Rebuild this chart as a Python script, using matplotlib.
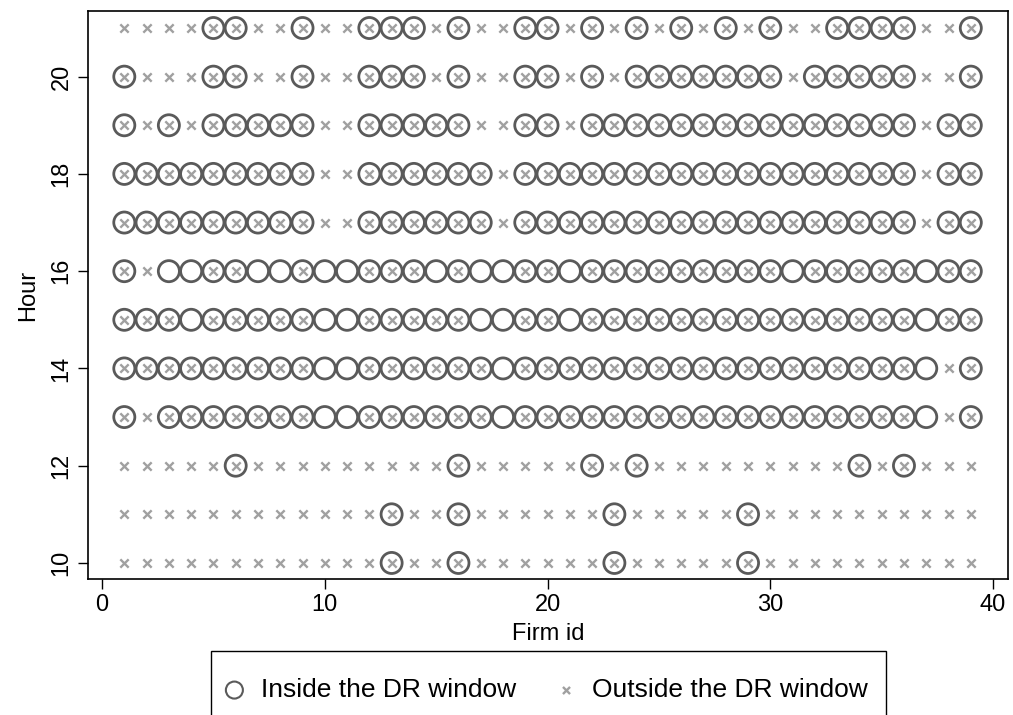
import matplotlib.pyplot as plt
from matplotlib.patches import Rectangle

plt.rcParams['font.family'] = ['Liberation Sans', 'DejaVu Sans']

# firm ids on the x axis
firms = [1, 2, 3, 4, 5, 6, 7, 8, 9, 10, 11, 12, 13, 14, 15, 16, 17, 18, 19, 20,
         21, 22, 23, 24, 25, 26, 27, 28, 29, 30, 31, 32, 33, 34, 35, 36, 37, 38, 39]

hours = [10, 11, 12, 13, 14, 15, 16, 17, 18, 19, 20, 21]

# firms with a point inside the DR window, one list per hour
inside = [
    [13, 16, 23, 29],
    [13, 16, 23, 29],
    [6, 16, 22, 24, 34, 36],
    [1, 3, 4, 5, 6, 7, 8, 9, 10, 11, 12, 13, 14, 15, 16, 17, 18, 19, 20, 21,
     22, 23, 24, 25, 26, 27, 28, 29, 30, 31, 32, 33, 34, 35, 36, 37, 39],
    [1, 2, 3, 4, 5, 6, 7, 8, 9, 10, 11, 12, 13, 14, 15, 16, 17, 18, 19, 20,
     21, 22, 23, 24, 25, 26, 27, 28, 29, 30, 31, 32, 33, 34, 35, 36, 37, 39],
    [1, 2, 3, 4, 5, 6, 7, 8, 9, 10, 11, 12, 13, 14, 15, 16, 17, 18, 19, 20,
     21, 22, 23, 24, 25, 26, 27, 28, 29, 30, 31, 32, 33, 34, 35, 36, 37, 38, 39],
    [1, 3, 4, 5, 6, 7, 8, 9, 10, 11, 12, 13, 14, 15, 16, 17, 18, 19, 20,
     21, 22, 23, 24, 25, 26, 27, 28, 29, 30, 31, 32, 33, 34, 35, 36, 37, 38, 39],
    [1, 2, 3, 4, 5, 6, 7, 8, 9, 12, 13, 14, 15, 16, 17, 19, 20, 21, 22, 23,
     24, 25, 26, 27, 28, 29, 30, 31, 32, 33, 34, 35, 36, 38, 39],
    [1, 2, 3, 4, 5, 6, 7, 8, 9, 12, 13, 14, 15, 16, 17, 19, 20, 21, 22, 23,
     24, 25, 26, 27, 28, 29, 30, 31, 32, 33, 34, 35, 36, 38, 39],
    [1, 3, 5, 6, 7, 8, 9, 12, 13, 14, 15, 16, 19, 20, 22, 23, 24, 25, 26, 27,
     28, 29, 30, 31, 32, 33, 34, 35, 36, 38, 39],
    [1, 5, 6, 9, 12, 13, 14, 16, 19, 20, 22, 24, 25, 26, 27, 28, 29, 30,
     32, 33, 34, 35, 36, 39],
    [5, 6, 9, 12, 13, 14, 16, 19, 20, 22, 24, 26, 28, 30, 33, 34, 35, 36, 39],
]

# firms with no point outside the DR window in that hour
no_outside = [[], [], [], [10, 11, 18, 37], [10, 11, 18, 37],
              [4, 10, 11, 17, 18, 21, 37],
              [3, 4, 7, 8, 10, 11, 15, 17, 18, 21, 31, 37],
              [], [], [], [], []]

ix, iy, ox, oy = [], [], [], []
for h, ins, miss in zip(hours, inside, no_outside):
    for f in ins:
        ix.append(f)
        iy.append(h)
    for f in firms:
        if f not in miss:
            ox.append(f)
            oy.append(h)

fig = plt.figure(figsize=(10.13, 7.15), dpi=100)
ax = fig.add_axes([88/1013, 1 - 579/715, (1008 - 88)/1013, (579 - 11)/715])

ax.scatter(ix, iy, s=230, facecolors='none', edgecolors='#5a5a5a',
           linewidths=2.0, label='Inside the DR window', zorder=2)
ax.scatter(ox, oy, s=36, marker='x', color='#a0a0a0',
           linewidths=1.7, label='Outside the DR window', zorder=3)

ax.set_xlim(-0.63, 40.67)
ax.set_ylim(9.67, 21.35)
ax.set_xticks([0, 10, 20, 30, 40])
ax.set_yticks([10, 12, 14, 16, 18, 20])
for lab in ax.get_yticklabels():
    lab.set_rotation(90)
    lab.set_va('center')
ax.tick_params(direction='out', length=7, width=1, labelsize=17, colors='black')
ax.tick_params(axis='x', pad=4)
ax.tick_params(axis='y', pad=4)
for sp in ax.spines.values():
    sp.set_linewidth(1.2)

ax.set_xlabel('Firm id', fontsize=17, labelpad=5)
ax.set_ylabel('Hour', fontsize=17, labelpad=8)

# legend box, its bottom edge runs off the picture
fig.patches.append(Rectangle((211/1013, -0.05), 675/1013, 0.05 + 1 - 651/715,
                             transform=fig.transFigure, fill=False,
                             edgecolor='black', linewidth=1.0))
leg = fig.legend(loc='center', bbox_to_anchor=(546/1013, 1 - 690/715),
                 ncol=2, frameon=False, fontsize=19, borderpad=0.2,
                 handlelength=0.8, handletextpad=0.6, columnspacing=1.5)
leg.legend_handles[0].set_sizes([150])
leg.legend_handles[0].set_linewidths([1.5])
leg.legend_handles[1].set_sizes([26])

fig.savefig('out.png', dpi=100)
